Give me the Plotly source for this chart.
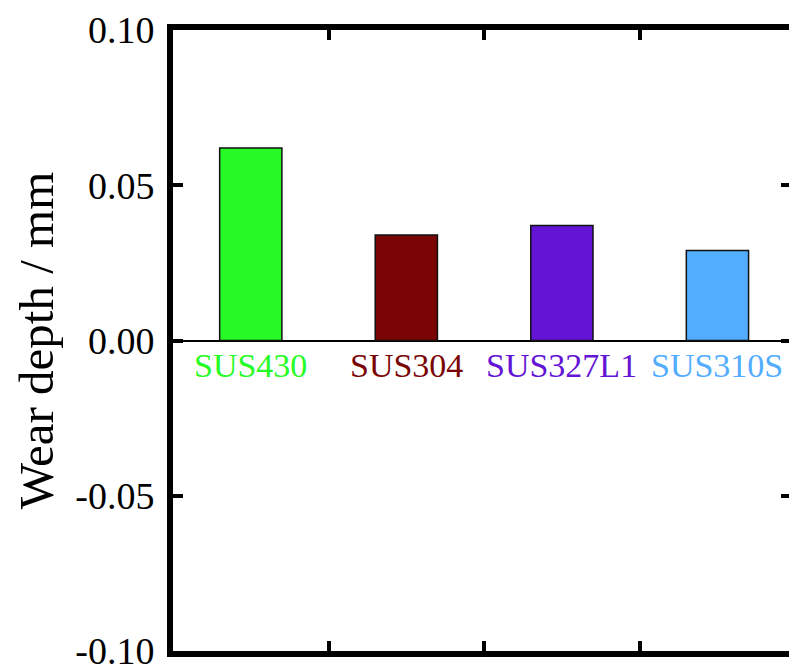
import plotly.graph_objects as go

# Wear depth of four stainless steel grades
grades = ["SUS430", "SUS304", "SUS327L1", "SUS310S"]
wear_depth = [0.062, 0.034, 0.037, 0.029]
bar_colors = ["#26FB26", "#7A0505", "#6414D4", "#52ADFF"]
y_ticks = [-0.10, -0.05, 0.00, 0.05, 0.10]
y_tick_labels = ["-0.10", "-0.05", "0.00", "0.05", "0.10"]

FONT = "Liberation Serif, Times New Roman, serif"

fig = go.Figure()
fig.add_trace(go.Bar(
    x=grades,
    y=wear_depth,
    width=0.4,
    marker=dict(color=bar_colors, line=dict(color="#111111", width=1.5)),
    showlegend=False,
    hoverinfo="skip",
))
# empty trace so the right-hand tick axis is drawn
fig.add_trace(go.Scatter(
    x=[grades[0]], y=[None], yaxis="y2", mode="markers",
    showlegend=False, hoverinfo="skip",
))

# grade names written under the zero line in each bar's colour
for g, c in zip(grades, bar_colors):
    fig.add_annotation(
        x=g, y=0, xref="x", yref="y",
        text=g, showarrow=False,
        yanchor="top", yshift=-4,
        font=dict(family=FONT, size=34, color=c),
    )

fig.update_layout(
    width=789, height=664,
    margin=dict(l=173, r=0, t=30, b=13),
    paper_bgcolor="white", plot_bgcolor="white",
    font=dict(family=FONT, color="black"),
    xaxis=dict(
        type="category",
        range=[-0.5, 3.46],
        showticklabels=False,
        ticks="inside", tickson="boundaries",
        ticklen=10, tickwidth=4, tickcolor="black",
        showline=True, linewidth=6, linecolor="black",
        mirror="ticks", showgrid=False, zeroline=False,
        automargin=False,
    ),
    yaxis=dict(
        range=[-0.10, 0.10],
        tickmode="array",
        tickvals=y_ticks,
        ticktext=y_tick_labels,
        ticks="inside", ticklen=10, tickwidth=4, tickcolor="black",
        showline=True, linewidth=6, linecolor="black",
        mirror=False, showgrid=False,
        zeroline=True, zerolinecolor="black", zerolinewidth=1.5,
        tickfont=dict(family=FONT, size=38, color="black"),
        ticklabelstandoff=5,
        ticklabeloverflow="allow",
        automargin=False,
        title=dict(text="Wear depth / mm", standoff=8,
                   font=dict(family=FONT, size=49, color="black")),
    ),
    yaxis2=dict(
        overlaying="y", side="right", anchor="x",
        range=[-0.10, 0.10],
        tickmode="array",
        tickvals=y_ticks,
        ticks="inside", ticklen=8, tickwidth=4, tickcolor="black",
        showticklabels=False, showline=False, showgrid=False, zeroline=False,
        automargin=False,
    ),
)

fig.write_html("out.html")
